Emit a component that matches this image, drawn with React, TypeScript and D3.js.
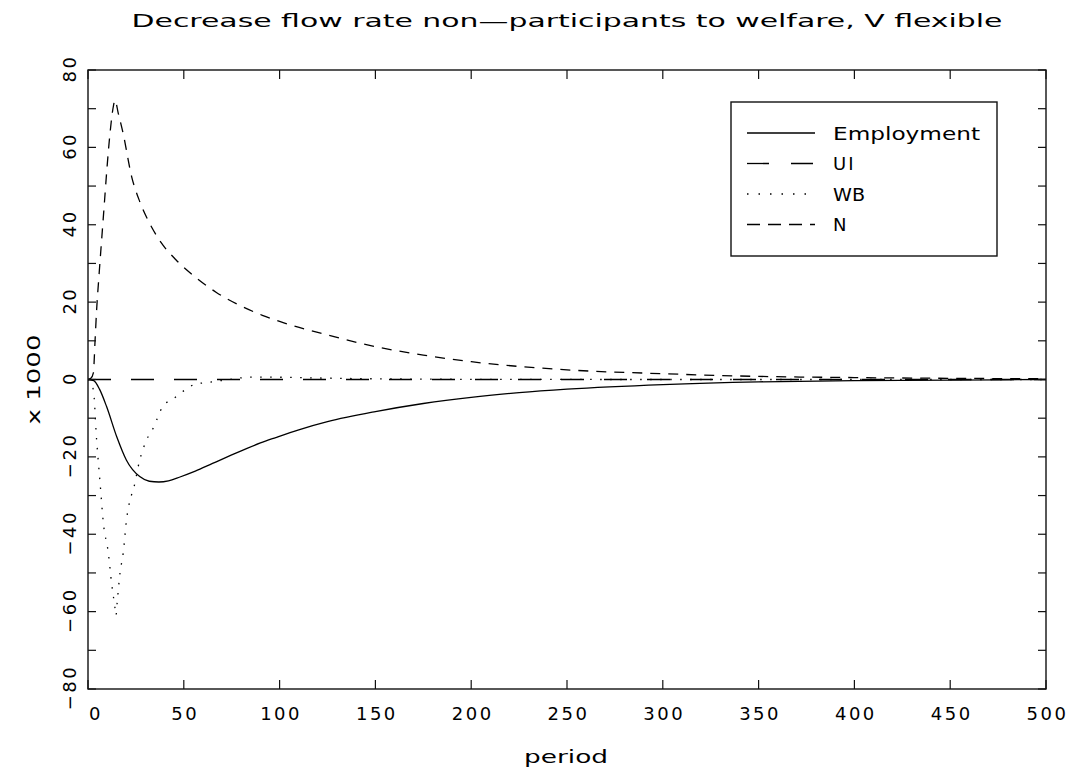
import React from "react";
import * as d3 from "d3";

const TITLE = "Decrease flow rate non\u2014participants to welfare, V flexible";
const X_LABEL = "period";
const Y_LABEL = "x 1000";

const xTicks = [0, 50, 100, 150, 200, 250, 300, 350, 400, 450, 500];
const yTicks = [-80, -60, -40, -20, 0, 20, 40, 60, 80];
const yMinorTicks = [-80, -70, -60, -50, -40, -30, -20, -10, 0, 10, 20, 30, 40, 50, 60, 70, 80];

const seriesNames = ["Employment", "UI", "WB", "N"];

const empPeriods = [0, 3, 6, 9.7, 15, 20, 27, 32, 37, 42, 48, 56, 65, 75, 83, 90, 98, 110, 125, 150, 175, 200, 225, 250, 300, 350, 400, 450, 500];
const empValues = [0, -0.3, -2.5, -7, -14.8, -20.8, -25.1, -26.3, -26.5, -26.2, -25.2, -23.7, -21.7, -19.5, -17.8, -16.4, -15.0, -13.0, -10.9, -8.3, -6.2, -4.6, -3.4, -2.5, -1.3, -0.6, -0.3, -0.15, 0];

const uiPeriods = [0, 500];
const uiValues = [0, 0];

const wbPeriods = [0, 1, 2.8, 4.5, 6.3, 8, 10.6, 12.4, 14, 14.6, 15.2, 16.7, 18.4, 20, 22, 23.6, 27, 30.6, 34, 39, 45, 50.6, 56, 62, 74, 84.5, 96, 110, 130, 160, 200, 300, 500];
const wbValues = [0, -0.5, -2.7, -15.6, -26.7, -37, -44.8, -53, -58.7, -61, -57.8, -50, -44.8, -36.7, -31, -28.6, -20.8, -15.6, -12.6, -7, -4.8, -2.7, -1.2, -0.8, 0, 0.6, 0.6, 0.5, 0.3, 0.15, 0.05, 0, 0];

const nPeriods = [0, 1.5, 2.8, 3.7, 4.5, 5.7, 7.1, 8.4, 9.8, 11.5, 13.2, 14.1, 15.8, 18.3, 22.8, 27, 31.3, 38, 46, 56.7, 67, 79, 91, 100, 125, 150, 175, 200, 250, 300, 350, 400, 450, 500];
const nValues = [0, 0.3, 1.7, 10.2, 18, 26.6, 36, 44.6, 54, 63.7, 70.5, 72.2, 68.8, 63.7, 52.4, 46, 41.2, 35.5, 30.9, 26.2, 22.5, 19.2, 16.6, 15.0, 11.5, 8.5, 6.3, 4.6, 2.5, 1.5, 0.8, 0.5, 0.3, 0.2];

const FONT = "'DejaVu Sans', sans-serif";

export default function App() {
  const W = 1075;
  const H = 771;
  const left = 88, right = 1046, top = 70, bottom = 689;

  const x = d3.scaleLinear().domain([0, 500]).range([left, right]);
  const y = d3.scaleLinear().domain([-80, 80]).range([bottom, top]);

  const line = d3
    .line<[number, number]>()
    .x((d) => x(d[0]))
    .y((d) => y(d[1]))
    .curve(d3.curveMonotoneX);

  const zip = (a: number[], b: number[]) => a.map((p, i) => [p, b[i]] as [number, number]);

  const series = [
    { name: seriesNames[0], data: zip(empPeriods, empValues), dash: "none" },
    { name: seriesNames[1], data: zip(uiPeriods, uiValues), dash: "23 20" },
    { name: seriesNames[2], data: zip(wbPeriods, wbValues), dash: "1.5 8.5" },
    { name: seriesNames[3], data: zip(nPeriods, nValues), dash: "10 8" },
  ];

  const legendDash = ["none", "22 22", "1.5 10", "13 8"];
  const legendText = [147, 20, 32, 14];

  const tickLen = 8;

  return (
    <svg width={W} height={H} style={{ display: "block", position: "absolute", left: 0, top: 0, background: "#fff" }}>
      <rect x={0} y={0} width={W} height={H} fill="#fff" />
      <text x={(left + right) / 2} y={27} textAnchor="middle" fontFamily={FONT} fontSize={18} textLength={871} lengthAdjust="spacingAndGlyphs" fill="#000">
        {TITLE}
      </text>

      {/* series */}
      <defs>
        <clipPath id="clip">
          <rect x={left} y={top} width={right - left} height={bottom - top} />
        </clipPath>
      </defs>
      <g clipPath="url(#clip)">
        {series.map((s) => (
          <path key={s.name} d={line(s.data) || ""} fill="none" stroke="#000" strokeWidth={1.3} strokeDasharray={s.dash} />
        ))}
      </g>

      {/* frame */}
      <rect x={left} y={top} width={right - left} height={bottom - top} fill="none" stroke="#111" strokeWidth={1.4} />

      {/* x ticks */}
      {xTicks.map((t) => (
        <g key={"x" + t}>
          <line x1={x(t)} x2={x(t)} y1={bottom} y2={bottom - tickLen - 1} stroke="#111" strokeWidth={1.2} />
          <line x1={x(t)} x2={x(t)} y1={top} y2={top + tickLen + 1} stroke="#111" strokeWidth={1.2} />
          <text x={x(t) + (t === 0 ? 8 : 1.5)} y={720} textAnchor="middle" fontFamily={FONT} fontSize={18} letterSpacing={2.5} fill="#000">
            {String(t)}
          </text>
        </g>
      ))}

      {/* y ticks */}
      {yMinorTicks.map((t) => (
        <g key={"y" + t}>
          <line x1={left} x2={left + tickLen} y1={y(t)} y2={y(t)} stroke="#111" strokeWidth={1.2} />
          <line x1={right} x2={right - tickLen} y1={y(t)} y2={y(t)} stroke="#111" strokeWidth={1.2} />
        </g>
      ))}
      {yTicks.map((t) => (
        <text
          key={"yl" + t}
          transform={`translate(69, ${y(t) - 1.5}) rotate(-90)`}
          textAnchor="middle"
          dominantBaseline="central"
          fontFamily={FONT}
          fontSize={18}
          letterSpacing={2.5}
          fill="#000"
        >
          {t < 0 ? "\u2212" + Math.abs(t) : String(t)}
        </text>
      ))}

      {/* axis titles */}
      <text x={566} y={763} textAnchor="middle" fontFamily={FONT} fontSize={18} textLength={84} lengthAdjust="spacingAndGlyphs" fill="#000">
        {X_LABEL}
      </text>
      <text
        transform={`translate(33, ${(top + bottom) / 2}) rotate(-90)`}
        textAnchor="middle"
        dominantBaseline="central"
        fontFamily={FONT}
        fontSize={18}
        textLength={90}
        lengthAdjust="spacingAndGlyphs"
        fill="#000"
      >
        {Y_LABEL}
      </text>

      {/* legend */}
      <rect x={731} y={102} width={266} height={154} fill="#fff" stroke="#111" strokeWidth={1.4} />
      {series.map((s, i) => {
        const ly = 133 + i * 30.5;
        return (
          <g key={"lg" + s.name}>
            <line x1={747} x2={815} y1={ly} y2={ly} stroke="#000" strokeWidth={1.3} strokeDasharray={legendDash[i]} />
            <text
              x={833}
              y={ly + 6.5}
              fontFamily={FONT}
              fontSize={18}
              textLength={legendText[i] > 30 ? legendText[i] : undefined}
              lengthAdjust="spacingAndGlyphs"
              letterSpacing={legendText[i] > 30 ? undefined : 2}
              fill="#000"
            >
              {s.name}
            </text>
          </g>
        );
      })}
    </svg>
  );
}
